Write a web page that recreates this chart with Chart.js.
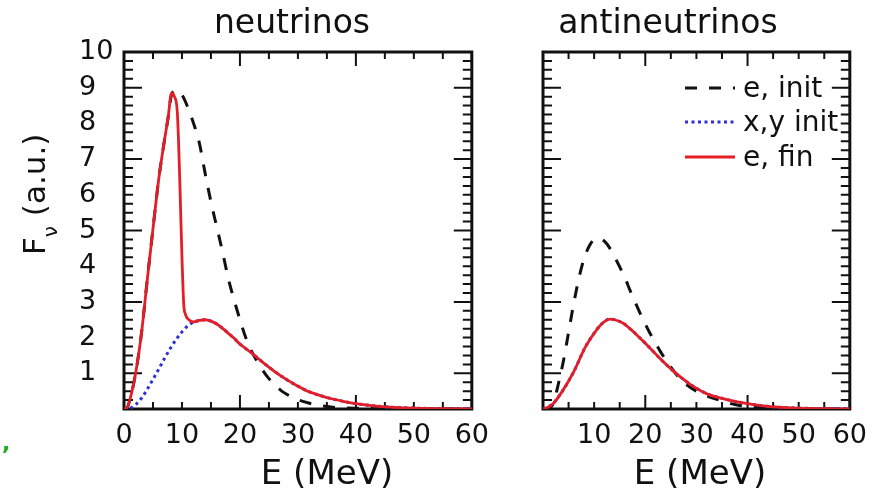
<!DOCTYPE html>
<html lang="en">

<head>
  <meta charset="utf-8">
  <title>Neutrino spectra</title>
  <script src="https://cdn.jsdelivr.net/npm/chart.js@4.4.0/dist/chart.umd.min.js"></script>
  <style>
    body { margin: 0; background: #fff; width: 878px; height: 495px; position: relative; overflow: hidden; }
    #left { position: absolute; left: 0; top: 0; }
    #right { position: absolute; left: 490px; top: 0; }
    #mark { position: absolute; left: 2px; top: 430px; color: #22aa22; font: bold 22px 'DejaVu Sans'; }
  </style>
</head>

<body>
  <canvas id="left" width="500" height="495"></canvas>
  <canvas id="right" width="388" height="495"></canvas>
  <div id="mark">,</div>

  <script>
    // neutrinos: energy (MeV) and flux (a.u.)
    const nuInitE = [0, 0.4, 1, 2, 3, 4, 5, 6, 7, 7.6, 8.2, 9, 10, 11, 12, 13, 14, 15, 16, 17, 18, 19, 20, 21, 22, 23, 24, 25, 26, 27, 28, 30, 32, 34, 36, 38, 40, 45, 50, 60];
    const nuInitF = [0, 0, 0.25, 1.0, 2.1, 3.6, 5.05, 6.45, 7.55, 8.15, 8.8, 8.93, 8.8, 8.45, 8.0, 7.45, 6.6, 5.8, 5.1, 4.4, 3.65, 3.05, 2.5, 2.0, 1.62, 1.33, 1.07, 0.85, 0.68, 0.53, 0.42, 0.26, 0.16, 0.09, 0.05, 0.03, 0.02, 0.005, 0, 0];

    const nuXE = [0, 0.5, 1, 2, 3, 4, 5, 6, 7, 8, 9, 10, 11, 12, 13, 14, 15, 16, 17, 18, 19, 20, 22, 24, 26, 28, 30, 32, 34, 36, 38, 40, 43, 46, 50, 55, 60];
    const nuXF = [0, 0, 0.02, 0.12, 0.3, 0.55, 0.83, 1.12, 1.42, 1.7, 1.95, 2.16, 2.33, 2.44, 2.48, 2.5, 2.46, 2.38, 2.26, 2.12, 1.98, 1.82, 1.57, 1.3, 1.05, 0.83, 0.64, 0.48, 0.37, 0.28, 0.21, 0.15, 0.09, 0.05, 0.025, 0.01, 0.005];

    const nuFinE = [0, 0.4, 1, 2, 3, 4, 5, 6, 7, 7.6, 8.2, 8.7, 9.2, 10.3, 10.6, 11.2, 12, 13, 14, 15, 16, 17, 18, 19, 20, 22, 24, 26, 28, 30, 32, 34, 36, 38, 40, 43, 46, 50, 55, 60];
    const nuFinF = [0, 0, 0.25, 1.0, 2.1, 3.6, 5.05, 6.45, 7.55, 8.15, 8.85, 8.75, 8.3, 2.95, 2.65, 2.5, 2.44, 2.48, 2.5, 2.46, 2.38, 2.26, 2.12, 1.98, 1.82, 1.57, 1.3, 1.05, 0.83, 0.64, 0.48, 0.37, 0.28, 0.21, 0.15, 0.09, 0.05, 0.025, 0.01, 0.005];

    // antineutrinos
    const antiInitE = [0, 1, 2, 3, 4, 5, 6, 7, 8, 9, 10, 11, 12, 13, 14, 15, 16, 17, 18, 19, 20, 21, 22, 23, 24, 25, 26, 27, 28, 30, 32, 34, 36, 38, 40, 45, 50, 60];
    const antiInitF = [0, 0.02, 0.15, 0.7, 1.35, 2.15, 2.95, 3.65, 4.2, 4.55, 4.75, 4.78, 4.7, 4.52, 4.26, 3.98, 3.68, 3.33, 3.0, 2.68, 2.38, 2.1, 1.85, 1.6, 1.38, 1.17, 0.98, 0.82, 0.69, 0.5, 0.37, 0.27, 0.18, 0.11, 0.07, 0.02, 0.005, 0];

    const antiXE = [0, 1, 2, 3.7, 6, 8.3, 10.6, 12, 13.1, 14, 15.7, 17, 18.6, 20, 21.3, 22.5, 24.2, 25.5, 27.1, 28.5, 29.8, 31, 32.7, 35, 37.3, 40, 43, 46, 50, 55, 60];
    const antiXF = [0, 0.06, 0.16, 0.48, 1.04, 1.74, 2.24, 2.45, 2.52, 2.5, 2.4, 2.25, 2.04, 1.84, 1.65, 1.47, 1.23, 1.06, 0.87, 0.72, 0.6, 0.5, 0.39, 0.3, 0.22, 0.15, 0.09, 0.05, 0.025, 0.01, 0.005];

    const antiFinE = [0, 1, 2, 3.7, 6, 8.3, 10.6, 12, 13.1, 14, 15.7, 17, 18.6, 20, 21.3, 22.5, 24.2, 25.5, 27.1, 28.5, 29.8, 31, 32.7, 35, 37.3, 40, 43, 46, 50, 55, 60];
    const antiFinF = [0, 0.05, 0.15, 0.48, 1.04, 1.74, 2.24, 2.45, 2.52, 2.5, 2.4, 2.25, 2.04, 1.84, 1.65, 1.47, 1.23, 1.06, 0.87, 0.72, 0.6, 0.5, 0.39, 0.3, 0.22, 0.15, 0.09, 0.05, 0.025, 0.01, 0.005];

    const seriesLabels = ['e, init', 'x,y init', 'e, fin'];
    const leftXLabels = [0, 10, 20, 30, 40, 50, 60];
    const rightXLabels = [10, 20, 30, 40, 50, 60];
    const yLabels = [1, 2, 3, 4, 5, 6, 7, 8, 9, 10];
    const xMajorMarks = [0, 20, 40, 60];
    const yMajorMarks = [1, 3, 5, 7, 9];

    const FONT = 'DejaVu Sans';
    const INK = '#111';

    function points(es, fs) {
      return es.map((e, i) => ({ x: e, y: fs[i] }));
    }

    function makeDatasets(initE, initF, xE, xF, finE, finF) {
      return [{
          label: seriesLabels[0],
          data: points(initE, initF),
          borderColor: '#111',
          borderWidth: 3,
          borderDash: [12, 12],
          order: 2
        },
        {
          label: seriesLabels[1],
          data: points(xE, xF),
          borderColor: '#2f2fd8',
          borderWidth: 3,
          borderDash: [3, 3.5],
          order: 1
        },
        {
          label: seriesLabels[2],
          data: points(finE, finF),
          borderColor: '#e41e26',
          borderWidth: 2.8,
          order: 0
        }
      ];
    }

    // box with inward ticks on all four sides
    const framePlugin = {
      id: 'frame',
      beforeDatasetsDraw(chart) {
        const { ctx, chartArea: a } = chart;
        const x = chart.scales.x;
        const y = chart.scales.y;
        ctx.save();
        ctx.strokeStyle = INK;
        ctx.lineWidth = 2;
        ctx.beginPath();
        for (let v = 0; v <= 60; v += 5) {
          const px = x.getPixelForValue(v);
          const len = xMajorMarks.includes(v) ? 14 : 7;
          ctx.moveTo(px, a.bottom); ctx.lineTo(px, a.bottom - len);
          ctx.moveTo(px, a.top); ctx.lineTo(px, a.top + len);
        }
        for (let v = 0; v <= 10; v += 0.25) {
          const py = y.getPixelForValue(v);
          const len = yMajorMarks.includes(v) ? 18 : 9;
          ctx.moveTo(a.left, py); ctx.lineTo(a.left + len, py);
          ctx.moveTo(a.right, py); ctx.lineTo(a.right - len, py);
        }
        ctx.stroke();
        ctx.lineWidth = 3;
        ctx.strokeRect(a.left, a.top, a.right - a.left, a.bottom - a.top);
        ctx.restore();
      }
    };

    function textPlugin(title, titleX, xTitleX, extra) {
      return {
        id: 'texts',
        afterDraw(chart) {
          const ctx = chart.ctx;
          ctx.save();
          ctx.fillStyle = INK;
          ctx.textBaseline = 'alphabetic';
          ctx.textAlign = 'center';
          ctx.font = `33px "${FONT}"`;
          ctx.fillText(title, titleX, 33);
          ctx.font = `34px "${FONT}"`;
          ctx.fillText('E (MeV)', xTitleX, 484);
          ctx.restore();
          if (extra) extra(chart);
        }
      };
    }

    function drawYTitle(chart) {
      const ctx = chart.ctx;
      ctx.save();
      ctx.fillStyle = INK;
      ctx.textBaseline = 'alphabetic';
      ctx.textAlign = 'left';
      ctx.translate(45, 255);
      ctx.rotate(-Math.PI / 2);
      ctx.font = `31px "${FONT}"`;
      ctx.fillText('F', 0, 0);
      let w = ctx.measureText('F').width;
      ctx.font = `20px "${FONT}"`;
      ctx.fillText('ν', w, 12);
      w += ctx.measureText('ν').width;
      ctx.font = `31px "${FONT}"`;
      ctx.fillText(' (a.u.)', w, 0);
      ctx.restore();
    }

    function drawLegend(chart) {
      const ctx = chart.ctx;
      const rows = [88, 122, 157];
      ctx.save();
      chart.data.datasets.forEach((ds, i) => {
        ctx.strokeStyle = ds.borderColor;
        ctx.lineWidth = ds.borderWidth;
        ctx.setLineDash(ds.borderDash || []);
        ctx.beginPath();
        ctx.moveTo(195, rows[i]);
        ctx.lineTo(245, rows[i]);
        ctx.stroke();
        ctx.setLineDash([]);
        ctx.fillStyle = INK;
        ctx.font = `28px "${FONT}"`;
        ctx.textAlign = 'left';
        ctx.textBaseline = 'alphabetic';
        ctx.fillText(ds.label, 253, rows[i] + 9);
      });
      ctx.restore();
    }

    function makeOptions(pad, xLabels, yAxisShown) {
      return {
        responsive: false,
        animation: false,
        layout: { autoPadding: false, padding: pad },
        plugins: { legend: { display: false }, tooltip: { enabled: false } },
        elements: {
          point: { radius: 0 },
          line: { cubicInterpolationMode: 'monotone', fill: false }
        },
        scales: {
          x: {
            type: 'linear',
            min: 0,
            max: 60,
            grid: { display: false, drawTicks: false },
            border: { display: false },
            ticks: {
              stepSize: 10,
              padding: 11,
              maxRotation: 0,
              autoSkip: false,
              color: INK,
              font: { family: FONT, size: 27 },
              callback: v => xLabels.includes(v) ? v : ''
            },
            afterFit: s => { s.height = 86; }
          },
          y: {
            display: yAxisShown,
            min: 0,
            max: 10,
            grid: { display: false, drawTicks: false },
            border: { display: false },
            ticks: {
              stepSize: 1,
              padding: 0,
              crossAlign: 'far',
              color: INK,
              font: { family: FONT, size: 27 },
              callback: v => yLabels.includes(v) ? v : ''
            },
            afterFit: s => { s.width = 45; }
          }
        }
      };
    }

    new Chart(document.getElementById('left'), {
      type: 'line',
      data: { datasets: makeDatasets(nuInitE, nuInitF, nuXE, nuXF, nuFinE, nuFinF) },
      options: makeOptions({ left: 79, right: 22, top: 52, bottom: 0 }, leftXLabels, true),
      plugins: [framePlugin, textPlugin('neutrinos', 292, 327, drawYTitle)]
    });

    new Chart(document.getElementById('right'), {
      type: 'line',
      data: { datasets: makeDatasets(antiInitE, antiInitF, antiXE, antiXF, antiFinE, antiFinF) },
      options: makeOptions({ left: 8, right: 28, top: 52, bottom: 0 }, rightXLabels, false),
      plugins: [framePlugin, textPlugin('antineutrinos', 178, 210, drawLegend)]
    });
  </script>

</body>

</html>
